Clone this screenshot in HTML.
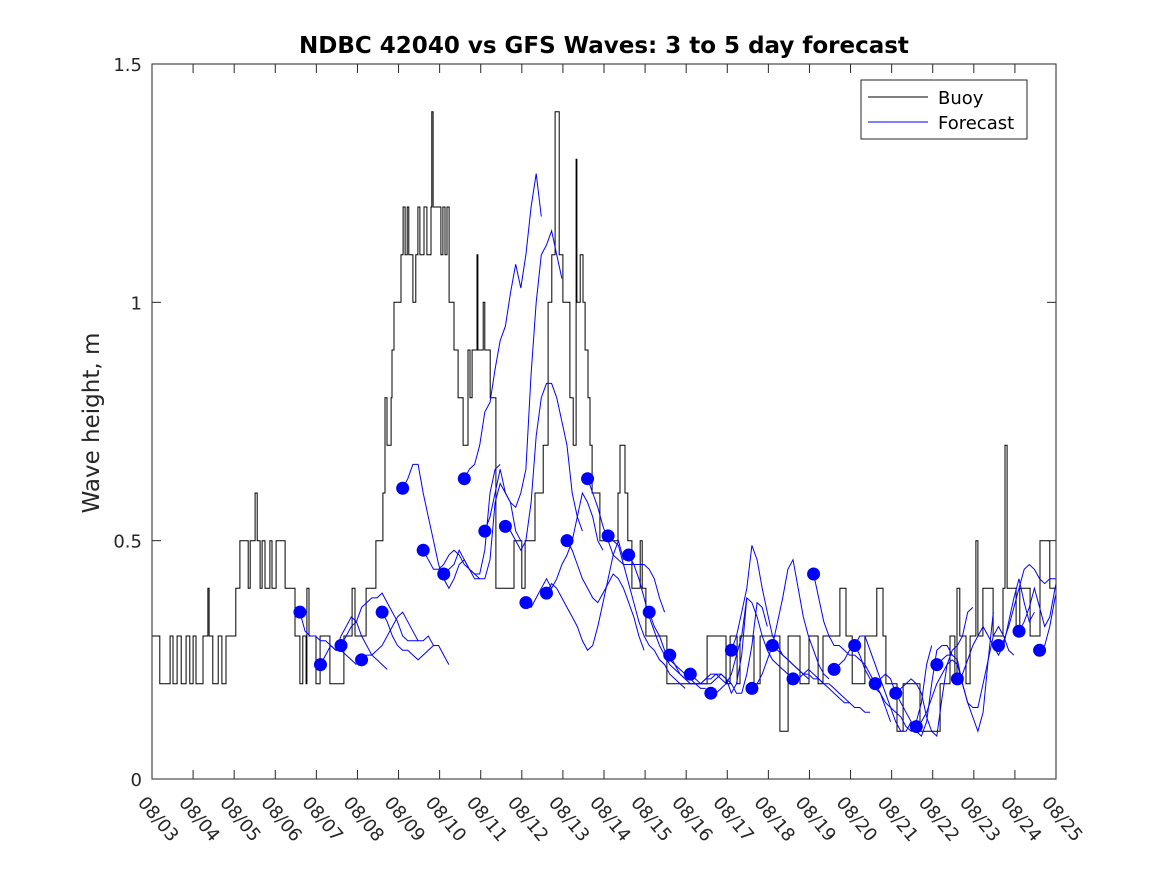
<!DOCTYPE html>
<html><head><meta charset="utf-8"><style>
html,body{margin:0;padding:0;background:#fff;}
svg{display:block;font-family:"DejaVu Sans","Liberation Sans",sans-serif;}
</style></head><body>
<svg id="chart" width="1167" height="875" viewBox="0 0 1167 875" xmlns="http://www.w3.org/2000/svg">
<defs><clipPath id="plotclip"><rect x="152" y="64" width="904" height="715"/></clipPath></defs>
<rect x="0" y="0" width="1167" height="875" fill="#fff"/>
<rect x="152" y="64" width="904" height="715" fill="#fff"/>
<g id="series" clip-path="url(#plotclip)"></g>
<rect x="152" y="64" width="904" height="715" fill="none" stroke="#262626" stroke-width="1"/>
<g id="axes"></g>
<text x="604" y="53" text-anchor="middle" font-size="23" font-weight="bold" fill="#000">NDBC 42040 vs GFS Waves: 3 to 5 day forecast</text>
<text transform="translate(99,423) rotate(-90)" text-anchor="middle" font-size="23" fill="#262626">Wave height, m</text>
<g>
<rect x="861" y="80" width="166" height="59" fill="#fff" stroke="#262626" stroke-width="1"/>
<line x1="868" y1="97" x2="928" y2="97" stroke="#000" stroke-width="1"/>
<text x="938" y="104" font-size="18" fill="#000">Buoy</text>
<line x1="868" y1="122" x2="928" y2="122" stroke="#0000ff" stroke-width="1"/>
<text x="938" y="129" font-size="18" fill="#000">Forecast</text>
</g>
</svg>
<script>
const xTickLabels = ["08/03","08/04","08/05","08/06","08/07","08/08","08/09","08/10","08/11","08/12","08/13","08/14","08/15","08/16","08/17","08/18","08/19","08/20","08/21","08/22","08/23","08/24","08/25"];
const yTicks = [0, 0.5, 1, 1.5];
const yTickLabels = ["0","0.5","1","1.5"];
const buoyTimes = [0,0.19,0.44,0.51,0.61,0.71,0.83,0.92,1.00,1.07,1.24,1.36,1.39,1.48,1.61,1.70,1.80,2.04,2.14,2.34,2.39,2.51,2.56,2.63,2.68,2.75,2.87,2.92,3.02,3.24,3.48,3.60,3.67,3.75,3.77,3.82,3.99,4.09,4.33,4.67,4.87,4.94,5.21,5.45,5.62,5.67,5.72,5.82,5.84,5.89,6.06,6.11,6.16,6.21,6.25,6.35,6.42,6.47,6.52,6.62,6.69,6.79,6.81,6.84,7.03,7.08,7.13,7.18,7.23,7.35,7.45,7.57,7.69,7.74,7.79,7.91,7.93,8.06,8.10,8.23,8.37,8.81,8.96,9.00,9.08,9.32,9.52,9.64,9.73,9.81,9.91,10.00,10.17,10.25,10.32,10.34,10.42,10.49,10.54,10.61,10.66,10.71,10.90,11.34,11.39,11.51,11.58,11.68,11.88,11.93,12.02,12.53,13.51,13.97,14.07,14.24,14.31,14.65,14.80,15.28,15.48,15.77,15.99,16.21,16.33,16.74,16.89,17.04,17.35,17.64,17.79,17.86,18.13,18.28,18.69,19.18,19.42,19.54,19.59,19.66,19.81,19.91,20.05,20.10,20.22,20.47,20.71,20.76,20.81,21.03,21.12,21.37,21.61,21.85];
const buoyValues = [0.3,0.2,0.3,0.2,0.3,0.2,0.3,0.2,0.3,0.2,0.3,0.4,0.3,0.2,0.3,0.2,0.3,0.4,0.5,0.4,0.5,0.6,0.5,0.4,0.5,0.4,0.5,0.4,0.5,0.4,0.3,0.2,0.3,0.2,0.4,0.3,0.2,0.3,0.2,0.3,0.4,0.3,0.4,0.5,0.6,0.8,0.7,0.8,0.9,1.0,1.1,1.2,1.1,1.2,1.1,1.0,1.1,1.2,1.1,1.2,1.1,1.2,1.4,1.2,1.1,1.2,1.1,1.2,1.0,0.9,0.8,0.7,0.9,0.8,0.9,1.1,0.9,1.0,0.9,0.8,0.4,0.5,0.5,0.4,0.5,0.6,0.7,1.0,1.1,1.4,1.1,1.0,0.8,0.7,1.3,1.0,1.1,1.0,0.9,0.8,0.7,0.6,0.5,0.6,0.7,0.6,0.5,0.4,0.5,0.4,0.3,0.2,0.3,0.2,0.3,0.2,0.3,0.2,0.3,0.1,0.3,0.2,0.3,0.2,0.3,0.4,0.3,0.2,0.3,0.4,0.3,0.2,0.1,0.2,0.1,0.2,0.3,0.2,0.4,0.3,0.2,0.3,0.5,0.3,0.4,0.3,0.4,0.7,0.4,0.3,0.4,0.3,0.5,0.4];
const dotTimes = [3.6,4.1,4.6,5.1,5.6,6.1,6.6,7.1,7.6,8.1,8.6,9.1,9.6,10.1,10.6,11.1,11.6,12.1,12.6,13.1,13.6,14.1,14.6,15.1,15.6,16.1,16.6,17.1,17.6,18.1,18.6,19.1,19.6,20.6,21.1,21.6];
const dotValues = [0.35,0.24,0.28,0.25,0.35,0.61,0.48,0.43,0.63,0.52,0.53,0.37,0.39,0.50,0.63,0.51,0.47,0.35,0.26,0.22,0.18,0.27,0.19,0.28,0.21,0.43,0.23,0.28,0.20,0.18,0.11,0.24,0.21,0.28,0.31,0.27];
const forecastStep = 0.125;
const forecastStarts = [3.6,4.1,4.6,5.1,5.6,6.1,6.6,7.1,7.6,8.1,8.6,9.1,9.6,10.1,10.6,11.1,11.6,12.1,12.6,13.1,13.6,14.1,14.6,15.1,15.6,16.1,16.6,17.1,17.6,18.1,18.6,19.1,19.6,20.6,21.1,21.6];
const forecastValues = [
[0.35,0.31,0.30,0.30,0.29,0.29,0.28,0.27,0.27,0.26,0.25,0.24],
[0.24,0.26,0.28,0.27,0.30,0.32,0.34,0.33,0.30,0.28,0.26,0.25,0.24,0.23],
[0.28,0.30,0.32,0.33,0.36,0.37,0.38,0.38,0.39,0.37,0.35,0.33,0.30,0.29,0.29,0.29],
[0.25,0.26,0.26,0.27,0.28,0.30,0.32,0.34,0.35,0.33,0.31,0.29,0.29,0.30,0.28],
[0.35,0.33,0.30,0.28,0.27,0.27,0.26,0.25,0.26,0.27,0.28,0.28,0.26,0.24],
[0.61,0.63,0.66,0.66,0.60,0.55,0.50,0.45,0.42,0.40,0.42,0.45,0.46,0.44,0.42,0.42],
[0.48,0.46,0.44,0.44,0.45,0.47,0.48,0.47,0.45,0.44,0.43,0.43,0.48,0.60,0.65,0.66],
[0.43,0.44,0.45,0.48,0.46,0.44,0.43,0.42,0.42,0.46,0.58,0.62,0.60,0.58,0.52,0.50],
[0.63,0.65,0.66,0.70,0.77,0.79,0.86,0.92,0.95,1.02,1.08,1.03,1.10,1.20,1.27,1.18],
[0.52,0.55,0.60,0.65,0.60,0.58,0.57,0.60,0.65,0.85,1.0,1.10,1.12,1.15,1.10,1.05],
[0.53,0.52,0.50,0.48,0.50,0.58,0.72,0.80,0.83,0.83,0.80,0.75,0.70,0.60,0.55,0.52],
[0.37,0.36,0.38,0.40,0.42,0.40,0.42,0.45,0.47,0.50,0.55,0.60,0.58,0.55,0.50,0.48],
[0.39,0.41,0.40,0.38,0.36,0.34,0.32,0.29,0.27,0.28,0.32,0.37,0.42,0.47,0.50,0.46],
[0.50,0.48,0.45,0.42,0.40,0.38,0.37,0.39,0.41,0.43,0.42,0.40,0.37,0.34,0.30,0.27],
[0.63,0.60,0.57,0.53,0.50,0.47,0.46,0.45,0.45,0.45,0.45,0.45,0.44,0.42,0.38,0.35],
[0.51,0.50,0.49,0.45,0.41,0.37,0.33,0.30,0.28,0.27,0.25,0.24,0.22,0.21,0.20,0.19],
[0.47,0.45,0.42,0.38,0.34,0.31,0.28,0.26,0.24,0.23,0.22,0.21,0.20,0.20,0.19,0.19],
[0.35,0.32,0.30,0.27,0.25,0.24,0.23,0.22,0.21,0.20,0.20,0.21,0.22,0.22,0.21,0.20],
[0.26,0.24,0.22,0.21,0.20,0.20,0.20,0.21,0.21,0.22,0.22,0.21,0.18,0.20,0.26,0.38],
[0.22,0.21,0.20,0.20,0.20,0.21,0.22,0.21,0.20,0.18,0.18,0.22,0.28,0.37,0.36,0.32],
[0.18,0.18,0.19,0.20,0.22,0.26,0.30,0.38,0.37,0.34,0.30,0.27,0.25,0.24,0.23,0.22],
[0.27,0.30,0.35,0.40,0.49,0.46,0.40,0.35,0.30,0.28,0.26,0.25,0.24,0.23,0.22,0.21],
[0.19,0.20,0.22,0.25,0.28,0.33,0.38,0.44,0.46,0.40,0.34,0.30,0.27,0.24,0.22,0.21],
[0.28,0.27,0.26,0.25,0.24,0.23,0.22,0.22,0.21,0.21,0.20,0.20,0.19,0.18,0.17,0.16],
[0.21,0.21,0.22,0.23,0.22,0.21,0.20,0.19,0.18,0.17,0.16,0.16,0.15,0.15,0.14,0.14],
[0.43,0.38,0.33,0.30,0.28,0.28,0.27,0.26,0.26,0.25,0.24,0.22,0.20,0.18,0.15,0.12],
[0.23,0.24,0.25,0.27,0.28,0.30,0.30,0.27,0.24,0.21,0.18,0.15,0.12,0.10,0.10,0.12],
[0.28,0.26,0.23,0.21,0.19,0.18,0.16,0.15,0.14,0.13,0.11,0.10,0.12,0.16,0.24,0.28],
[0.20,0.21,0.22,0.21,0.18,0.16,0.14,0.12,0.10,0.09,0.12,0.20,0.27,0.28,0.28,0.26],
[0.18,0.19,0.20,0.21,0.20,0.18,0.13,0.10,0.09,0.17,0.24,0.27,0.28,0.30,0.35,0.36],
[0.11,0.12,0.14,0.17,0.20,0.22,0.24,0.25,0.24,0.20,0.16,0.13,0.10,0.14,0.25,0.35],
[0.24,0.25,0.26,0.26,0.25,0.20,0.16,0.15,0.15,0.20,0.25,0.30,0.32,0.30,0.27,0.26],
[0.21,0.22,0.25,0.28,0.30,0.32,0.30,0.28,0.26,0.28,0.33,0.38,0.42,0.37,0.33,0.35],
[0.28,0.29,0.32,0.36,0.40,0.44,0.45,0.44,0.42,0.41,0.42,0.42,0.42],
[0.31,0.33,0.36,0.40,0.36,0.32,0.34,0.40,0.45,0.73,0.65],
[0.27,0.28,0.32,0.38,0.42,0.40,0.36]
];

const X0=152, X1=1056, Y0=779, Y1=64, DAYS=22, YMAX=1.5;
function xScale(d){return X0+(X1-X0)*d/DAYS;}
function yScale(v){return Y0-(Y0-Y1)*v/YMAX;}
const NS="http://www.w3.org/2000/svg";
const series=document.getElementById('series');
const axes=document.getElementById('axes');

let bd="";
buoyValues.forEach((v,i)=>{
  const xa=xScale(buoyTimes[i]);
  const xb=xScale(i+1<buoyTimes.length?buoyTimes[i+1]:DAYS);
  const y=yScale(v);
  bd += (i===0?"M":"L")+xa.toFixed(1)+","+y.toFixed(1)+"L"+xb.toFixed(1)+","+y.toFixed(1);
});
const bp=document.createElementNS(NS,'path');
bp.setAttribute('d',bd);bp.setAttribute('fill','none');bp.setAttribute('stroke','#000');bp.setAttribute('stroke-width','1');


series.appendChild(bp);

forecastValues.forEach((arr,k)=>{
  const t0=forecastStarts[k];
  const d=arr.map((v,i)=>(i?"L":"M")+xScale(t0+i*forecastStep).toFixed(1)+","+yScale(v).toFixed(1)).join("");
  const p=document.createElementNS(NS,'path');
  p.setAttribute('d',d);p.setAttribute('fill','none');p.setAttribute('stroke','#0000ff');p.setAttribute('stroke-width','1');
  
  
  series.appendChild(p);
});
dotTimes.forEach((t,i)=>{
  const c=document.createElementNS(NS,'circle');
  c.setAttribute('cx',xScale(t));c.setAttribute('cy',yScale(dotValues[i]));c.setAttribute('r','6.5');c.setAttribute('fill','#0000ff');
  
  
  series.appendChild(c);
});

xTickLabels.forEach((lab,i)=>{
  const x=xScale(i);
  [[Y0,Y0-9],[Y1,Y1+9]].forEach(([a,b])=>{
    const l=document.createElementNS(NS,'line');
    l.setAttribute('x1',x);l.setAttribute('x2',x);l.setAttribute('y1',a);l.setAttribute('y2',b);l.setAttribute('stroke','#262626');
    
    
    axes.appendChild(l);
  });
  const tx=document.createElementNS(NS,'text');
  tx.setAttribute('transform','translate('+(x-15)+',803) rotate(50)');
  tx.setAttribute('font-size','18');tx.setAttribute('fill','#262626');
  tx.textContent=lab;
  
  
  axes.appendChild(tx);
});
yTicks.forEach((v,i)=>{
  const y=yScale(v);
  [[X0,X0+9],[X1,X1-9]].forEach(([a,b])=>{
    const l=document.createElementNS(NS,'line');
    l.setAttribute('x1',a);l.setAttribute('x2',b);l.setAttribute('y1',y);l.setAttribute('y2',y);l.setAttribute('stroke','#262626');
    
    
    axes.appendChild(l);
  });
  const tx=document.createElementNS(NS,'text');
  tx.setAttribute('x',X0-10);tx.setAttribute('y',y+7);tx.setAttribute('text-anchor','end');
  tx.setAttribute('font-size','18');tx.setAttribute('fill','#262626');
  tx.textContent=yTickLabels[i];
  
  
  axes.appendChild(tx);
});
</script>
</body></html>
